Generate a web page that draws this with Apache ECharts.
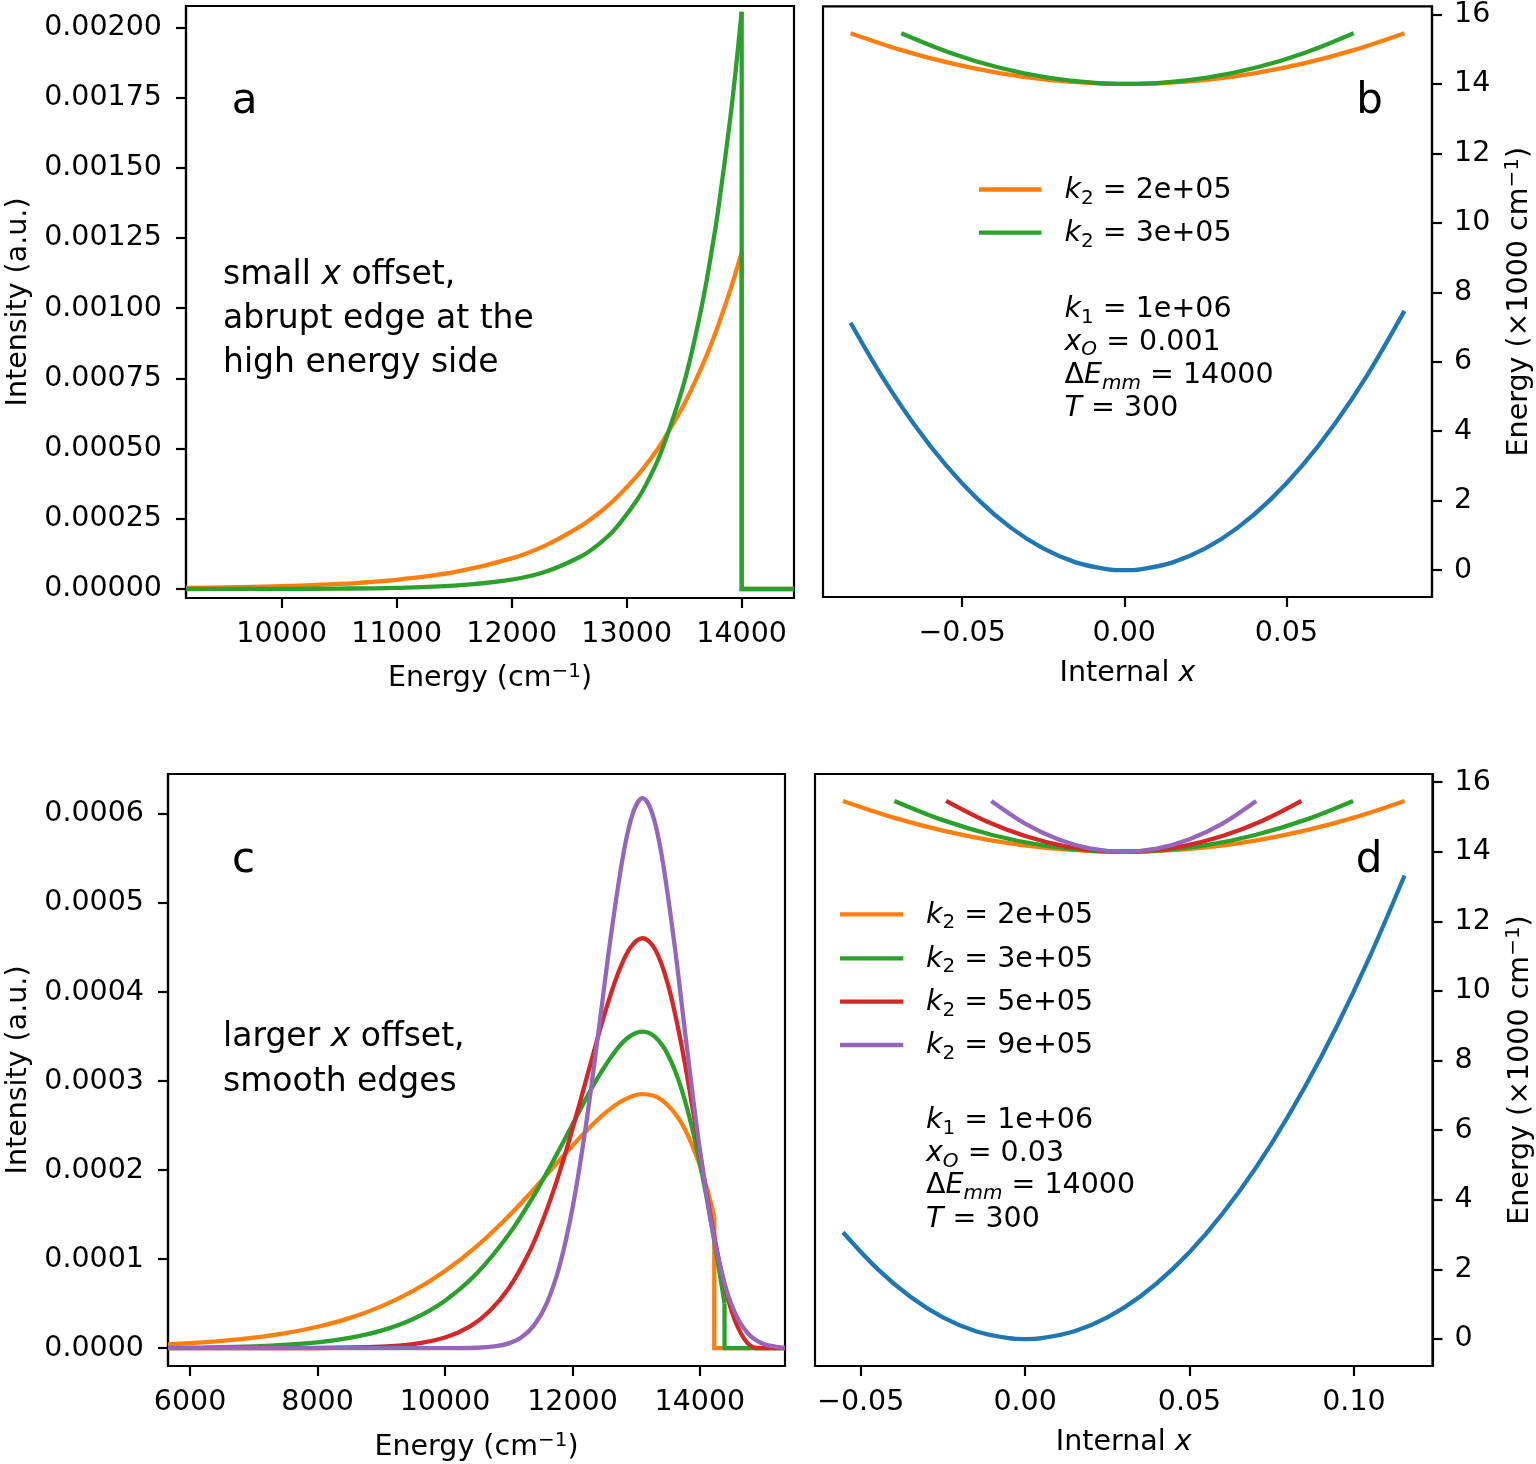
<!DOCTYPE html>
<html><head><meta charset="utf-8">
<script src="https://cdn.jsdelivr.net/npm/echarts@6/dist/echarts.min.js"></script>
<style>html,body{margin:0;padding:0;background:#fff}#c{width:1536px;height:1464px}</style>
</head><body><div id="c"></div>
<script>
// ---------- panel a : spectra, small x offset ----------
const energyA = [9168, 9500, 10000, 10500, 11000, 11500, 12000, 12300, 12600, 12750, 12900, 13100, 13200, 13300, 13500, 13650, 13750, 13800, 13900, 13950, 14000];
const orangeA = [0.0000037, 0.0000054, 0.0000099, 0.0000180, 0.0000329, 0.0000598, 0.0001090, 0.0001562, 0.0002237, 0.0002679, 0.0003206, 0.0004075, 0.0004594, 0.0005180, 0.0006583, 0.0007881, 0.0008885, 0.0009434, 0.0010635, 0.0011292, 0.0011990];
const greenA  = [0.0000001, 0.0000002, 0.0000006, 0.0000015, 0.0000043, 0.0000120, 0.0000337, 0.0000624, 0.0001157, 0.0001574, 0.0002143, 0.0003232, 0.0003970, 0.0004876, 0.0007355, 0.0010011, 0.0012296, 0.0013626, 0.0016736, 0.0018547, 0.0020555];
const edgeEnergyA = [14000, 14000, 14455];
const orangeEdgeA = [0.0011990, 0, 0];
const greenEdgeA  = [0.0020555, 0, 0];

// ---------- panel b : potentials, xO = 0.001 ----------
const xLowerB = [-0.0844, -0.075, -0.065, -0.055, -0.045, -0.035, -0.025, -0.015, -0.005, 0, 0.005, 0.015, 0.025, 0.035, 0.045, 0.055, 0.065, 0.075, 0.0864];
const eLowerB = [7.123, 5.625, 4.225, 3.025, 2.025, 1.225, 0.625, 0.225, 0.025, 0, 0.025, 0.225, 0.625, 1.225, 2.025, 3.025, 4.225, 5.625, 7.465];
const xOrangeB = [-0.0844, -0.069, -0.054, -0.039, -0.024, -0.009, 0.001, 0.011, 0.026, 0.041, 0.056, 0.071, 0.0864];
const eOrangeB = [15.459, 14.980, 14.605, 14.320, 14.125, 14.020, 14.000, 14.020, 14.125, 14.320, 14.605, 14.980, 15.459];
const xGreenB = [-0.06875, -0.054, -0.039, -0.024, -0.009, 0.001, 0.011, 0.026, 0.041, 0.056, 0.07075];
const eGreenB = [15.460, 14.908, 14.480, 14.188, 14.030, 14.000, 14.030, 14.188, 14.480, 14.908, 15.460];

// ---------- panel c : spectra, larger x offset ----------
const energyOrangeC = [5653, 6000, 6500, 7000, 7500, 8000, 8500, 9000, 9500, 10000, 10500, 11000, 11300, 11600, 11900, 12200, 12500, 12800, 13100, 13400, 13700, 13950, 14100, 14180, 14225];
const orangeC = [0.0000044, 0.0000057, 0.0000082, 0.0000119, 0.0000170, 0.0000241, 0.0000338, 0.0000470, 0.0000643, 0.0000867, 0.0001147, 0.0001485, 0.0001712, 0.0001952, 0.0002194, 0.0002428, 0.0002634, 0.0002787, 0.0002853, 0.0002789, 0.0002542, 0.0002151, 0.0001817, 0.0001605, 0.0001474];
const energyGreenC = [5653, 6000, 7000, 8000, 8500, 9000, 9500, 10000, 10500, 11000, 11400, 11800, 12100, 12400, 12700, 12900, 13100, 13300, 13500, 13700, 13900, 14100, 14250, 14350, 14386];
const greenC = [0.0000004, 0.0000006, 0.0000021, 0.0000066, 0.0000115, 0.0000197, 0.0000328, 0.0000534, 0.0000841, 0.0001276, 0.0001722, 0.0002240, 0.0002651, 0.0003043, 0.0003363, 0.0003503, 0.0003556, 0.0003494, 0.0003294, 0.0002935, 0.0002405, 0.0001711, 0.0001100, 0.0000665, 0.0000506];
const energyRedC = [5653, 8000, 9000, 9500, 10000, 10400, 10700, 11000, 11300, 11500, 11700, 11900, 12100, 12300, 12500, 12700, 12900, 13100, 13300, 13500, 13700, 13900, 14100, 14300, 14500, 14700, 14900, 15335];
const redC = [0, 0.0000002, 0.0000016, 0.0000045, 0.0000120, 0.0000249, 0.0000417, 0.0000673, 0.0001047, 0.0001373, 0.0001764, 0.0002217, 0.0002717, 0.0003239, 0.0003745, 0.0004182, 0.0004490, 0.0004605, 0.0004476, 0.0004082, 0.0003443, 0.0002631, 0.0001764, 0.0000985, 0.0000413, 0.0000099, 0.0000002, 0];
const energyPurpleC = [5653, 9000, 10000, 10500, 10800, 11000, 11200, 11400, 11600, 11800, 12000, 12200, 12400, 12600, 12800, 12950, 13100, 13250, 13400, 13600, 13800, 14000, 14200, 14400, 14600, 14800, 15000, 15200, 15335];
const purpleC = [0, 0, 0, 0.0000005, 0.0000022, 0.0000054, 0.0000122, 0.0000259, 0.0000510, 0.0000932, 0.0001572, 0.0002449, 0.0003509, 0.0004615, 0.0005556, 0.0006015, 0.0006178, 0.0006012, 0.0005536, 0.0004539, 0.0003352, 0.0002221, 0.0001315, 0.0000693, 0.0000324, 0.0000133, 0.0000048, 0.0000015, 0.0000007];
const edgeEnergyOrangeC = [14225, 14225, 15335];
const orangeEdgeC = [0.0001474, 0, 0];
const edgeEnergyGreenC = [14386, 14386, 15335];
const greenEdgeC = [0.0000506, 0, 0];

// ---------- panel d : potentials, xO = 0.03 ----------
const xLowerD = [-0.0554, -0.045, -0.035, -0.025, -0.015, -0.005, 0, 0.005, 0.015, 0.025, 0.035, 0.045, 0.055, 0.065, 0.075, 0.085, 0.095, 0.105, 0.1154];
const eLowerD = [3.069, 2.025, 1.225, 0.625, 0.225, 0.025, 0, 0.025, 0.225, 0.625, 1.225, 2.025, 3.025, 4.225, 5.625, 7.225, 9.025, 11.025, 13.317];
const xOrangeD = [-0.0554, -0.040, -0.025, -0.010, 0.005, 0.020, 0.030, 0.040, 0.055, 0.070, 0.085, 0.100, 0.1154];
const eOrangeD = [15.459, 14.980, 14.605, 14.320, 14.125, 14.020, 14.000, 14.020, 14.125, 14.320, 14.605, 14.980, 15.459];
const xGreenD = [-0.03975, -0.025, -0.010, 0.005, 0.020, 0.030, 0.040, 0.055, 0.070, 0.085, 0.09975];
const eGreenD = [15.460, 14.908, 14.480, 14.188, 14.030, 14.000, 14.030, 14.188, 14.480, 14.908, 15.460];
const xRedD = [-0.02403, -0.012, 0.000, 0.012, 0.024, 0.030, 0.036, 0.048, 0.060, 0.072, 0.08403];
const eRedD = [15.460, 14.882, 14.450, 14.162, 14.018, 14.000, 14.018, 14.162, 14.450, 14.882, 15.460];
const xPurpleD = [-0.01027, 0.000, 0.010, 0.020, 0.030, 0.040, 0.050, 0.060, 0.07027];
const ePurpleD = [15.460, 14.810, 14.360, 14.090, 14.000, 14.090, 14.360, 14.810, 15.460];

// ---------- ticks ----------
const ticksAx = [10000, 11000, 12000, 13000, 14000];
const ticksAy = [0, 0.00025, 0.0005, 0.00075, 0.001, 0.00125, 0.0015, 0.00175, 0.002];
const ticksBx = [-0.05, 0, 0.05];
const ticksEy = [0, 2, 4, 6, 8, 10, 12, 14, 16];
const ticksCx = [6000, 8000, 10000, 12000, 14000];
const ticksCy = [0, 0.0001, 0.0002, 0.0003, 0.0004, 0.0005, 0.0006];
const ticksDx = [-0.05, 0, 0.05, 0.10];

const legendB = ['2e+05', '3e+05'];
const legendD = ['2e+05', '3e+05', '5e+05', '9e+05'];

// ---------- styling ----------
const FONT = 'DejaVu Sans';
const FS = 28.5;
const LW = 4.3;
const C = {blue:'#1f77b4', orange:'#ff7f0e', green:'#2ca02c', red:'#d62728', purple:'#9467bd'};

const xy = (xs, ys) => xs.map((x, i) => [x, ys[i]]);
function line(name, xs, ys, color, gi, smooth) {
  return {type:'line', name, xAxisIndex:gi, yAxisIndex:gi, data:xy(xs, ys),
    showSymbol:false, symbol:'none', smooth: smooth === false ? false : 0.35,
    lineStyle:{width:LW, color, cap:'butt', join:'miter'}, itemStyle:{color},
    animation:false, silent:true};
}
const tickStyle = {show:true, inside:false, length:10, lineStyle:{color:'#000', width:2.2}};
const richAxis = {
  n:{fontFamily:FONT, fontSize:FS, color:'#000', lineHeight:34},
  i:{fontFamily:FONT, fontSize:FS, color:'#000', fontStyle:'italic', lineHeight:34},
  sup:{fontFamily:FONT, fontSize:20, color:'#000', lineHeight:20, verticalAlign:'top'}
};
function xAxis(gi, min, max, ticks, fmt, name, gap) {
  return {gridIndex:gi, type:'value', min, max,
    axisLine:{show:true, onZero:false, lineStyle:{color:'#000', width:2.2}},
    splitLine:{show:false},
    axisTick:Object.assign({customValues:ticks}, tickStyle),
    axisLabel:{customValues:ticks, formatter:fmt, margin:22, color:'#000', fontFamily:FONT, fontSize:FS},
    name, nameLocation:'middle', nameGap:gap,
    nameTextStyle:{color:'#000', fontFamily:FONT, fontSize:FS, rich:richAxis}};
}
function yAxis(gi, min, max, ticks, fmt, name, gap, pos) {
  return {gridIndex:gi, type:'value', min, max, position:pos,
    axisLine:{show:true, onZero:false, lineStyle:{color:'#000', width:2.2}},
    splitLine:{show:false},
    axisTick:Object.assign({customValues:ticks}, tickStyle),
    axisLabel:{customValues:ticks, formatter:fmt, margin:pos === 'right' ? 22 : 24, color:'#000', fontFamily:FONT, fontSize:FS},
    name, nameLocation:'middle', nameGap:gap, nameRotate:90,
    nameTextStyle:{color:'#000', fontFamily:FONT, fontSize:FS, rich:richAxis}};
}
const fmtInt = v => String(Math.round(v));
const fmt5 = v => v.toFixed(5);
const fmt4 = v => v.toFixed(4);
const fmtX = v => (v < 0 ? '\u2212' : '') + Math.abs(v).toFixed(2);
const fmtE = v => String(Math.round(v));

// rich styles for graphic text (zrender)
const RG = {
  n:{fontFamily:FONT, fontSize:FS, fill:'#000', lineHeight:36},
  i:{fontFamily:FONT, fontSize:FS, fill:'#000', lineHeight:36, fontStyle:'italic'},
  s:{fontFamily:FONT, fontSize:20, fill:'#000', lineHeight:20, verticalAlign:'bottom'},
  si:{fontFamily:FONT, fontSize:20, fill:'#000', lineHeight:20, verticalAlign:'bottom', fontStyle:'italic'},
  an:{fontFamily:FONT, fontSize:33, fill:'#000', lineHeight:40},
  ai:{fontFamily:FONT, fontSize:33, fill:'#000', lineHeight:40, fontStyle:'italic'}
};
function gtext(x, y, text, opts) {
  return Object.assign({type:'text', x, y, silent:true, z:100,
    style:{text, fill:'#000', fontFamily:FONT, fontSize:FS, align:'left', verticalAlign:'middle', rich:RG}}, opts || {});
}
function letter(x, y, t) {
  return {type:'text', x, y, silent:true, z:100,
    style:{text:t, fill:'#000', fontFamily:FONT, fontSize:42, align:'center', verticalAlign:'middle'}};
}
function handle(x1, x2, y, color) {
  return {type:'line', silent:true, z:100, shape:{x1, y1:y, x2, y2:y}, style:{stroke:color, lineWidth:LW}};
}

const colorsD = [C.orange, C.green, C.red, C.purple];
const graphics = [
  letter(244.5, 102.5, 'a'), letter(1369.5, 102.5, 'b'), letter(243.5, 861.5, 'c'), letter(1369, 861.5, 'd'),
  gtext(223, 275, '{an|small }{ai|x}{an| offset,}'),
  gtext(223, 319, '{an|abrupt edge at the}'),
  gtext(223, 363.6, '{an|high energy side}'),
  gtext(223, 1037.2, '{an|larger }{ai|x}{an| offset,}'),
  gtext(223, 1082, '{an|smooth edges}'),
  // panel b legend
  handle(979, 1041.4, 189.5, C.orange), handle(979, 1041.4, 232.7, C.green),
  gtext(1064.5, 190.5, '{i|k}{s|2}{n| = ' + legendB[0] + '}'),
  gtext(1064.5, 233.7, '{i|k}{s|2}{n| = ' + legendB[1] + '}'),
  gtext(1064.5, 310, '{i|k}{s|1}{n| = 1e+06}'),
  gtext(1064.5, 342.2, '{i|x}{si|O}{n| = 0.001}'),
  gtext(1064.5, 375.6, '{n|\u0394}{i|E}{si|mm}{n| = 14000}'),
  gtext(1064.5, 408.2, '{i|T}{n| = 300}'),
  // panel d params
  gtext(926, 1120.7, '{i|k}{s|1}{n| = 1e+06}'),
  gtext(926, 1153.3, '{i|x}{si|O}{n| = 0.03}'),
  gtext(926, 1186, '{n|\u0394}{i|E}{si|mm}{n| = 14000}'),
  gtext(926, 1220, '{i|T}{n| = 300}')
];
const legendYD = [914.3, 958.3, 1001.7, 1045];
legendD.forEach((lab, k) => {
  graphics.push(handle(840, 903.3, legendYD[k], colorsD[k]));
  graphics.push(gtext(926, legendYD[k] + 0.8, '{i|k}{s|2}{n| = ' + lab + '}'));
});

const nameEnergy = '{n|Energy (cm}{sup|\u22121}{n|)}';
const nameEnergyK = '{n|Energy (\u00D71000 cm}{sup|\u22121}{n|)}';
const nameX = '{n|Internal }{i|x}';

const option = {
  backgroundColor:'#fff',
  animation:false,
  grid:[
    {left:186, top:6, width:608, height:592, show:true, borderColor:'#000', borderWidth:2.2},
    {left:823, top:6, width:609, height:591, show:true, borderColor:'#000', borderWidth:2.2},
    {left:168, top:774, width:617, height:592, show:true, borderColor:'#000', borderWidth:2.2},
    {left:815, top:774, width:618, height:592, show:true, borderColor:'#000', borderWidth:2.2}
  ],
  xAxis:[
    xAxis(0, 9168, 14455, ticksAx, fmtInt, nameEnergy, 64),
    xAxis(1, -0.0929, 0.0949, ticksBx, fmtX, nameX, 60),
    xAxis(2, 5653, 15335, ticksCx, fmtInt, nameEnergy, 65),
    xAxis(3, -0.0639, 0.1239, ticksDx, fmtX, nameX, 60)
  ],
  yAxis:[
    yAxis(0, -0.000032, 0.002076, ticksAy, fmt5, 'Intensity (a.u.)', 153, 'left'),
    yAxis(1, -0.773, 16.233, ticksEy, fmtE, nameEnergyK, 71, 'right'),
    yAxis(2, -0.00002, 0.000645, ticksCy, fmt4, 'Intensity (a.u.)', 135, 'left'),
    yAxis(3, -0.773, 16.233, ticksEy, fmtE, nameEnergyK, 71, 'right')
  ],
  series:[
    line('k2 = 2e+05 (a)', energyA, orangeA, C.orange, 0),
    line('edge orange a', edgeEnergyA, orangeEdgeA, C.orange, 0, false),
    line('k2 = 3e+05 (a)', energyA, greenA, C.green, 0),
    line('edge green a', edgeEnergyA, greenEdgeA, C.green, 0, false),

    line('ground b', xLowerB, eLowerB, C.blue, 1),
    line('k2 = 2e+05 (b)', xOrangeB, eOrangeB, C.orange, 1),
    line('k2 = 3e+05 (b)', xGreenB, eGreenB, C.green, 1),

    line('k2 = 2e+05 (c)', energyOrangeC, orangeC, C.orange, 2),
    line('edge orange c', edgeEnergyOrangeC, orangeEdgeC, C.orange, 2, false),
    line('k2 = 3e+05 (c)', energyGreenC, greenC, C.green, 2),
    line('edge green c', edgeEnergyGreenC, greenEdgeC, C.green, 2, false),
    line('k2 = 5e+05 (c)', energyRedC, redC, C.red, 2),
    line('k2 = 9e+05 (c)', energyPurpleC, purpleC, C.purple, 2),

    line('ground d', xLowerD, eLowerD, C.blue, 3),
    line('k2 = 2e+05 (d)', xOrangeD, eOrangeD, C.orange, 3),
    line('k2 = 3e+05 (d)', xGreenD, eGreenD, C.green, 3),
    line('k2 = 5e+05 (d)', xRedD, eRedD, C.red, 3),
    line('k2 = 9e+05 (d)', xPurpleD, ePurpleD, C.purple, 3)
  ],
  graphic:graphics
};
const chart = echarts.init(document.getElementById('c'), null, {renderer:'canvas'});
chart.setOption(option);
</script>
</body></html>
